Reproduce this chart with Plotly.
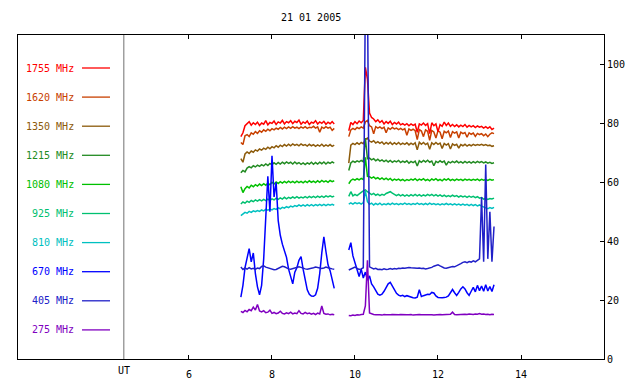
import plotly.graph_objects as go

# ---------------- data ----------------
T1_START = 7.25   # first observing block start (UT hours)
T2_START = 9.85   # second observing block start (UT hours)
STEP = 0.05       # sampling step (hours)

title_text = "21 01 2005"
x_tick_vals = [6, 8, 10, 12, 14]
y_tick_vals = [0, 20, 40, 60, 80, 100]
ut_position = 4.43

labels = ["1755 MHz", "1620 MHz", "1350 MHz", "1215 MHz", "1080 MHz",
          "925 MHz", "810 MHz", "670 MHz", "405 MHz", "275 MHz"]
colors = ["#ff0000", "#c84000", "#8c5a0a", "#228b22", "#00c000",
          "#00c070", "#00c0c0", "#0000ff", "#2020c8", "#8000c0"]

f1755_a = [75.5, 76.8, 79.2, 79.8, 80.6, 79.4, 80.2, 79.6, 80.4, 79.3,
           80.1, 79.7, 80.9, 79.5, 80.3, 80.0, 80.8, 79.6, 80.5, 80.1,
           81.0, 79.8, 80.6, 80.2, 80.9, 79.9, 80.7, 80.3, 81.1, 79.7,
           80.5, 80.0, 80.8, 79.6, 80.4, 80.1, 80.9, 79.8, 80.5, 80.0,
           80.7, 79.7, 80.4, 79.9, 80.6, 79.8]
f1755_b = [77.5, 80.3, 79.6, 80.6, 79.9, 80.8, 80.2, 81.0, 99.0, 95.0,
           83.5, 82.0, 81.5, 80.6, 81.2, 80.3, 80.9, 79.8, 80.6, 80.0,
           80.7, 79.6, 80.3, 79.8, 80.4, 79.5, 79.9, 79.4, 79.9, 79.2,
           79.8, 79.3, 79.7, 77.0, 79.8, 79.4, 80.1, 79.3, 79.9, 76.5,
           80.2, 79.2, 79.8, 77.2, 79.6, 79.0, 80.4, 79.3, 80.1, 79.0,
           79.6, 78.9, 79.5, 78.8, 79.4, 78.9, 79.6, 78.7, 79.3, 78.8,
           79.2, 78.6, 79.1, 78.7, 79.0, 78.4, 78.9, 78.3, 78.8, 77.9,
           78.4]

f1620_a = [73.5, 72.8, 75.8, 76.2, 75.5, 76.8, 76.3, 77.2, 76.6, 77.5,
           77.0, 77.8, 77.3, 78.0, 77.5, 78.2, 77.8, 78.4, 78.0, 78.6,
           78.1, 78.7, 78.2, 78.8, 78.3, 78.9, 78.4, 78.7, 78.2, 78.8,
           78.4, 78.9, 78.3, 78.7, 78.5, 79.0, 78.4, 78.8, 77.0, 78.7,
           78.3, 78.9, 78.4, 78.7, 77.6, 78.3]
f1620_b = [75.5, 77.8, 78.3, 77.9, 78.6, 78.2, 78.8, 78.4, 80.5, 81.0,
           79.2, 78.8, 76.5, 78.9, 78.4, 78.8, 78.2, 78.7, 76.8, 78.5,
           78.0, 78.6, 78.1, 78.4, 77.9, 78.3, 77.8, 78.2, 76.0, 78.1,
           77.6, 78.0, 77.5, 74.5, 77.9, 77.4, 75.5, 77.8, 77.3, 74.2,
           77.6, 77.1, 75.0, 77.5, 77.0, 74.8, 77.3, 76.8, 77.4, 75.2,
           77.2, 76.7, 77.1, 75.0, 77.0, 76.5, 76.9, 75.3, 76.8, 76.3,
           76.7, 75.6, 76.6, 76.2, 76.5, 75.8, 76.4, 75.5, 76.3, 76.8,
           76.5]

f1350_a = [68.0, 66.8, 69.6, 70.3, 69.8, 70.6, 70.2, 71.0, 70.6, 71.3,
           70.9, 71.6, 71.2, 71.9, 71.4, 72.1, 71.7, 72.4, 71.9, 72.6,
           72.1, 72.8, 72.3, 72.9, 72.4, 73.0, 72.5, 72.9, 72.4, 73.0,
           72.5, 72.8, 72.3, 72.9, 72.4, 72.8, 72.2, 72.7, 72.3, 72.9,
           72.2, 72.7, 72.3, 72.8, 72.2, 72.6]
f1350_b = [66.5, 72.6, 73.2, 72.8, 73.4, 72.9, 73.5, 73.1, 74.5, 75.0,
           74.0, 73.6, 74.1, 73.3, 73.8, 73.2, 73.7, 72.9, 73.5, 73.0,
           73.6, 72.8, 73.4, 72.9, 73.5, 72.8, 73.3, 72.9, 73.4, 72.7,
           73.3, 72.8, 73.4, 71.0, 73.6, 72.9, 73.5, 72.8, 73.3, 71.2,
           73.4, 72.8, 73.5, 72.9, 73.3, 71.5, 73.2, 72.6, 73.1, 71.3,
           73.0, 72.5, 72.9, 71.6, 72.8, 72.4, 72.9, 72.3, 72.8, 72.4,
           72.9, 72.5, 72.8, 72.6, 72.9, 72.5, 72.8, 72.4, 72.6, 72.2,
           72.4]

f1215_a = [63.2, 64.0, 63.5, 64.8, 65.3, 64.9, 65.6, 65.2, 65.8, 65.4,
           66.0, 65.6, 66.2, 65.7, 66.4, 65.9, 66.6, 66.1, 66.7, 66.2,
           66.8, 66.3, 66.9, 66.4, 66.8, 66.2, 66.9, 66.3, 66.7, 66.1,
           66.6, 66.0, 66.6, 66.2, 66.8, 66.1, 66.7, 66.2, 66.8, 66.3,
           66.9, 66.2, 66.8, 66.4, 66.9, 66.5]
f1215_b = [64.0, 66.6, 67.2, 66.8, 67.3, 66.9, 67.4, 67.0, 75.0, 68.0,
           68.2, 67.6, 68.0, 67.3, 67.8, 67.2, 67.6, 67.0, 67.5, 66.9,
           67.4, 66.8, 67.3, 66.9, 67.4, 66.7, 67.2, 66.8, 67.3, 66.5,
           67.1, 66.7, 67.2, 65.5, 67.3, 66.8, 67.4, 66.9, 67.5, 66.8,
           67.2, 65.6, 67.1, 66.7, 67.3, 66.8, 67.2, 65.8, 67.0, 66.6,
           67.1, 66.7, 67.2, 66.6, 67.0, 66.5, 67.1, 66.6, 67.0, 66.5,
           67.0, 66.6, 67.1, 66.7, 67.0, 66.6, 66.9, 66.5, 66.8, 66.4,
           66.6]

f1080_a = [58.5, 56.5, 57.8, 58.6, 58.1, 59.0, 58.5, 59.2, 58.7, 59.4,
           58.9, 59.5, 59.0, 59.7, 59.2, 60.0, 59.4, 60.1, 59.6, 60.2,
           59.7, 60.3, 59.8, 60.4, 59.9, 60.3, 59.8, 60.4, 59.9, 60.3,
           59.8, 60.4, 59.9, 60.5, 60.0, 60.4, 59.9, 60.5, 60.0, 60.6,
           60.1, 60.5, 60.0, 60.6, 60.2, 60.5]
f1080_b = [59.5, 60.6, 61.1, 60.7, 61.2, 60.8, 61.3, 60.9, 68.5, 62.0,
           61.9, 61.4, 61.8, 61.2, 61.6, 61.0, 61.5, 60.9, 61.4, 60.8,
           61.3, 60.6, 61.1, 60.7, 61.1, 60.6, 61.0, 60.5, 60.9, 60.6,
           61.1, 60.7, 61.2, 60.6, 61.1, 60.7, 61.2, 60.6, 61.0, 60.5,
           61.1, 60.7, 61.2, 60.6, 61.0, 60.5, 61.1, 60.7, 61.2, 60.6,
           61.0, 60.6, 61.1, 60.7, 61.0, 60.6, 61.1, 60.7, 61.0, 60.6,
           61.0, 60.7, 61.1, 60.6, 61.0, 60.7, 60.9, 60.6, 61.0, 60.7,
           60.9]

f925_a = [52.6, 53.3, 52.9, 53.6, 53.2, 53.8, 53.4, 54.0, 53.6, 54.1,
          53.7, 54.2, 53.8, 54.3, 53.9, 54.4, 54.0, 54.6, 54.2, 54.7,
          54.3, 54.9, 54.4, 54.9, 54.5, 55.0, 54.6, 55.1, 54.6, 55.0,
          54.7, 55.1, 54.7, 55.2, 54.8, 55.2, 54.8, 55.3, 54.9, 55.3,
          54.9, 55.4, 55.0, 55.4, 55.0, 55.3]
f925_b = [55.2, 56.8, 55.4, 55.9, 55.5, 56.2, 56.6, 57.1, 57.4, 56.8,
          56.3, 55.8, 56.2, 55.6, 56.0, 55.5, 55.9, 55.6, 56.2, 56.6,
          56.8, 56.3, 55.9, 55.5, 55.9, 55.4, 55.8, 55.3, 55.7, 55.3,
          55.8, 55.4, 55.9, 55.4, 55.8, 55.3, 55.7, 55.4, 55.9, 55.5,
          55.9, 55.4, 55.8, 55.3, 55.7, 55.2, 55.6, 55.1, 55.5, 55.1,
          55.6, 55.2, 55.5, 55.0, 55.4, 55.0, 55.3, 54.9, 55.3, 54.9,
          55.2, 54.8, 55.1, 54.6, 54.8, 54.3, 54.5, 54.2, 54.5, 54.3,
          54.6]

f810_a = [48.7, 49.3, 49.8, 49.5, 50.1, 49.8, 50.3, 50.0, 50.4, 50.1,
          50.6, 50.3, 50.8, 50.5, 50.9, 50.6, 51.1, 50.8, 51.3, 51.0,
          51.5, 51.2, 51.7, 51.4, 51.9, 51.6, 52.1, 51.8, 52.3, 51.9,
          52.3, 51.9, 52.4, 52.0, 52.4, 52.0, 52.4, 52.1, 52.5, 52.1,
          52.5, 52.1, 52.5, 52.2, 52.5, 52.2]
f810_b = [52.6, 53.0, 52.6, 53.1, 52.7, 53.0, 52.6, 53.1, 57.0, 53.4,
          52.5, 52.9, 52.3, 52.8, 52.4, 52.9, 52.3, 52.7, 52.4, 52.8,
          52.4, 52.9, 52.5, 52.8, 52.4, 52.8, 52.5, 52.9, 52.5, 52.8,
          52.4, 52.8, 52.5, 52.9, 52.5, 52.8, 52.4, 52.8, 52.4, 52.9,
          52.5, 52.8, 52.4, 52.7, 52.3, 52.7, 52.4, 52.8, 52.4, 52.7,
          52.3, 52.7, 52.3, 52.6, 52.2, 52.6, 52.2, 52.5, 52.1, 52.5,
          52.1, 52.4, 52.0, 52.3, 51.9, 51.6, 51.3, 51.0, 51.4, 51.1,
          51.5]

f670_a = [21.0, 25.0, 31.0, 34.5, 37.5, 33.0, 36.0, 29.0, 24.5, 21.8,
          25.0, 34.0, 46.0, 62.0, 50.0, 69.0, 55.0, 60.0, 47.0, 42.0,
          39.0, 36.5, 34.5, 30.5, 28.0, 25.5, 29.5, 31.0, 33.5, 34.8,
          30.5, 26.5, 23.5, 22.0, 21.4, 21.3, 21.8, 24.0, 29.0, 36.0,
          41.5, 36.5, 32.0, 30.0, 26.5, 24.0]
f670_b = [37.0, 39.5, 35.0, 32.5, 30.0, 28.0, 30.5, 27.5, 29.5, 26.8,
          28.2, 25.5, 24.5, 23.0, 22.0, 21.7, 22.0, 23.0, 24.5, 25.5,
          26.0, 24.8, 23.5, 22.3, 21.7, 21.4, 21.6, 21.2, 21.5, 21.2,
          21.0, 20.8, 20.7, 21.0, 23.5, 21.2, 21.5, 21.8, 22.0, 21.9,
          22.6, 22.4, 21.4, 20.9, 20.8, 20.8, 20.9, 21.0, 21.4, 22.3,
          23.6, 22.5, 21.6, 22.6, 23.8, 24.5, 23.8, 22.5, 21.6, 23.0,
          24.3, 22.8, 25.0, 23.2, 24.8, 23.0, 25.2, 23.1, 24.6, 22.9,
          25.2]

f405_a = [31.2, 30.4, 30.9, 30.5, 31.0, 30.6, 30.8, 30.4, 30.9, 30.7,
          31.4, 31.6, 31.2, 31.0, 30.8, 30.6, 30.3, 30.4, 30.8, 31.2,
          31.5, 31.3, 30.9, 30.6, 30.5, 30.7, 30.8, 31.0, 31.3, 31.1,
          30.8, 30.6, 30.5, 30.6, 30.8, 31.0, 31.2, 31.1, 30.8, 30.7,
          30.9, 31.2, 31.0, 30.7, 30.6, 30.5]
f405_b = [30.2, 30.5, 30.9, 31.2, 30.8, 30.4, 30.6, 31.0, 125.0, 125.0,
          31.3, 31.0, 30.6, 30.8, 30.4, 30.5, 30.3, 30.6, 30.4, 30.5,
          30.7, 30.5, 30.7, 30.6, 30.8, 30.7, 30.9, 30.8, 31.0, 31.1,
          31.0, 30.9, 31.0, 30.8, 30.9, 30.7, 30.8, 30.6, 30.7, 30.8,
          31.1, 31.5, 31.8, 32.0, 31.6, 31.2, 30.9, 30.8, 31.0, 31.2,
          31.4, 31.3, 31.6, 32.0, 32.4, 32.8, 33.0, 32.7, 33.1, 32.9,
          33.3, 33.0, 33.6, 34.0, 55.0, 33.0, 66.0, 34.0, 50.0, 33.0,
          45.0]

f275_a = [16.2, 15.8, 16.5, 16.0, 16.8, 16.4, 17.6, 16.6, 18.5, 16.3,
          16.0, 16.4, 15.7, 15.9, 16.6, 15.5, 15.8, 15.4, 15.6, 16.2,
          15.5, 15.3, 15.7, 15.4, 15.9, 15.3, 15.6, 15.4, 16.4, 15.5,
          15.3, 15.8, 15.4, 15.6, 15.2, 15.5, 15.1, 15.6, 15.3, 18.0,
          15.5, 15.2, 15.3, 15.0, 15.2, 15.0]
f275_b = [14.8, 14.7, 14.9, 14.8, 15.0, 14.9, 15.1, 15.2, 18.0, 33.5,
          15.6, 15.3, 15.1, 15.0, 15.1, 15.0, 14.9, 15.1, 15.0, 14.9,
          15.0, 15.1, 15.0, 14.9, 15.0, 15.1, 15.0, 14.9, 15.0, 15.0,
          15.1, 14.9, 15.0, 15.0, 15.1, 15.0, 14.9, 15.0, 15.0, 15.1,
          15.0, 14.9, 15.0, 15.0, 15.1, 15.0, 15.0, 15.1, 15.0, 15.2,
          15.9, 15.1, 15.0, 15.1, 15.0, 15.1, 15.2, 15.1, 15.3, 15.2,
          15.1, 15.3, 15.2, 15.4, 15.2, 15.3, 15.1, 15.2, 15.0, 15.2,
          15.1]

series = {
    "1755 MHz": (f1755_a, f1755_b),
    "1620 MHz": (f1620_a, f1620_b),
    "1350 MHz": (f1350_a, f1350_b),
    "1215 MHz": (f1215_a, f1215_b),
    "1080 MHz": (f1080_a, f1080_b),
    "925 MHz": (f925_a, f925_b),
    "810 MHz": (f810_a, f810_b),
    "670 MHz": (f670_a, f670_b),
    "405 MHz": (f405_a, f405_b),
    "275 MHz": (f275_a, f275_b),
}

# ---------------- figure ----------------
FONT = "DejaVu Sans Mono"
PAGE_OFFSET = 8                      # default body margin of the page
W, H = 640 - PAGE_OFFSET, 384 - PAGE_OFFSET
PLOT_L, PLOT_T, PLOT_R, PLOT_B = 18, 35, 604, 359   # screen pixels
ML, MT = PLOT_L - PAGE_OFFSET, PLOT_T - PAGE_OFFSET
MR, MB = 640 - PLOT_R, 384 - PLOT_B
PW, PH = PLOT_R - PLOT_L, PLOT_B - PLOT_T


def times(start, n):
    return [round(start + STEP * i, 4) for i in range(n)]


fig = go.Figure()
draw_order = ["1620 MHz", "1755 MHz", "1350 MHz", "1215 MHz", "1080 MHz",
              "925 MHz", "810 MHz", "670 MHz", "405 MHz", "275 MHz"]
color_of = dict(zip(labels, colors))
for name in draw_order:
    a, b = series[name]
    xs = times(T1_START, len(a)) + [None] + times(T2_START, len(b))
    ys = list(a) + [None] + list(b)
    fig.add_trace(go.Scatter(x=xs, y=ys, mode="lines", name=name,
                             line=dict(color=color_of[name], width=1.5),
                             connectgaps=False, showlegend=False,
                             hoverinfo="skip"))


def px_x(p):
    return (p - PLOT_L) / PW


def px_y(p):
    return (PLOT_B - p) / PH


legend_top_px, legend_step_px = 68, 29.1
annotations = []
shapes = []
for i, (lab, col) in enumerate(zip(labels, colors)):
    ypx = legend_top_px + i * legend_step_px
    annotations.append(dict(x=px_x(76), y=px_y(ypx), xref="paper", yref="paper",
                            text=lab, showarrow=False, xanchor="right",
                            yanchor="middle",
                            font=dict(family=FONT, size=10, color=col)))
    shapes.append(dict(type="line", xref="paper", yref="paper",
                       x0=px_x(82), x1=px_x(110), y0=px_y(ypx), y1=px_y(ypx),
                       line=dict(color=col, width=1.3)))

shapes.append(dict(type="line", xref="x", yref="paper", x0=ut_position,
                   x1=ut_position, y0=0, y1=1,
                   line=dict(color="#707070", width=1)))
annotations.append(dict(x=ut_position, y=px_y(370), xref="x", yref="paper",
                        text="UT", showarrow=False, xanchor="center",
                        yanchor="middle",
                        font=dict(family=FONT, size=10, color="black")))
annotations.append(dict(x=0.5, y=px_y(18), xref="paper", yref="paper",
                        text=title_text, showarrow=False, xanchor="center",
                        yanchor="middle",
                        font=dict(family=FONT, size=10, color="black")))

fig.update_layout(
    width=W, height=H,
    margin=dict(l=ML, r=MR, t=MT, b=MB, pad=0),
    paper_bgcolor="white", plot_bgcolor="white",
    font=dict(family=FONT, size=10, color="black"),
    annotations=annotations, shapes=shapes,
    xaxis=dict(range=[1.88, 16], tickvals=x_tick_vals,
               ticktext=[str(v) for v in x_tick_vals],
               ticks="inside", ticklen=4, tickcolor="black", tickwidth=1,
               showline=True, linecolor="black", linewidth=1,
               mirror="allticks", showgrid=False, zeroline=False,
               automargin=False, ticklabelstandoff=6,
               tickfont=dict(family=FONT, size=10, color="black")),
    yaxis=dict(range=[0, 110], tickvals=y_tick_vals, side="right",
               ticks="inside", ticklen=4, tickcolor="black", tickwidth=1,
               showline=True, linecolor="black", linewidth=1,
               mirror=True, showgrid=False, zeroline=False,
               automargin=False,
               tickfont=dict(family=FONT, size=10, color="black")),
)

fig.write_html("out.html", config={"displayModeBar": False})
